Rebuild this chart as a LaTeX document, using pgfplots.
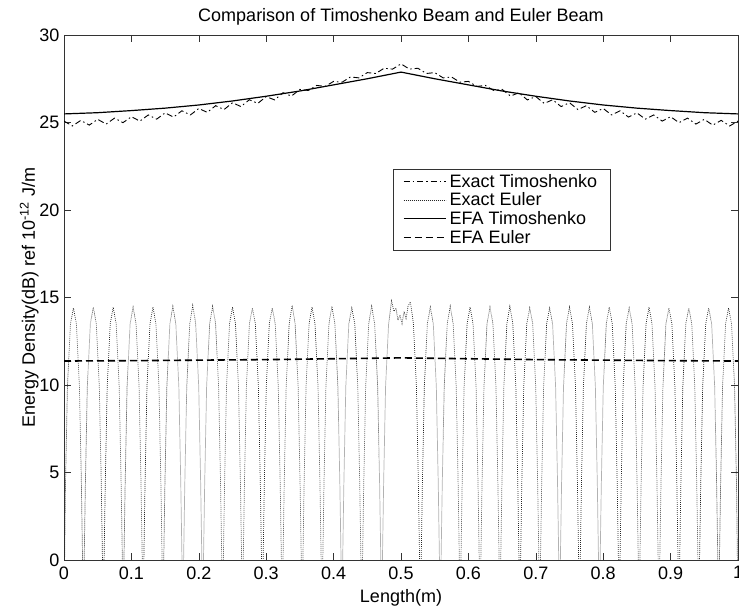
\documentclass[border=0pt]{standalone}
\usepackage{fontspec}
\setmainfont{Liberation Sans}
\usepackage{pgfplots}
\pgfplotsset{compat=1.18}
\begin{document}
\begin{tikzpicture}
\begin{axis}[
  name=ax,
  scale only axis,
  width=674pt, height=525pt,
  xmin=0, xmax=1, ymin=0, ymax=30,
  xtick={0,0.1,0.2,0.3,0.4,0.5,0.6,0.7,0.8,0.9,1},
  xticklabels={0,0.1,0.2,0.3,0.4,0.5,0.6,0.7,0.8,0.9,1},
  ytick={0,5,10,15,20,25,30},
  tick align=inside,
  major tick length=7pt,
  tick style={black!80, line width=0.6pt},
  axis line style={black!80, line width=0.7pt},
  clip=true,
  /pgf/number format/assume math mode=true,
  tick label style={font=\fontsize{18}{21}\selectfont},
  xticklabel style={yshift=-3pt},
  yticklabel style={xshift=-1pt},
  label style={font=\fontsize{18}{21}\selectfont},
  xlabel={Length(m)},
  ylabel={Energy Density(dB) ref 10\textsuperscript{-12} J/m},
  ylabel shift={-6pt},
  xlabel style={at={(rel axis cs:0.5,0)}, anchor=center, yshift=-38pt},
  title={Comparison of Timoshenko Beam and Euler Beam},
  title style={font=\fontsize{18}{21}\selectfont, at={(rel axis cs:0.5,1)}, anchor=center, yshift=12pt},
  legend style={at={(rel axis cs:0.488,0.745)}, anchor=north west, draw=black!80, fill=white,
    font=\fontsize{18}{19.5}\selectfont, row sep=2.2pt, inner xsep=10pt, inner ysep=4pt,
    nodes={inner ysep=1pt, inner xsep=3pt}},
  legend cell align=left,
  legend image code/.code={\path (0pt,0pt) -- (42pt,0pt); \draw[#1] (0pt,0pt) -- (35pt,0pt);},
]
% Exact Timoshenko (dash-dot)
\addplot[black, line width=0.9pt, dash pattern=on 6pt off 3pt on 1.5pt off 3pt] coordinates {
(0,25.08)(0.0125,24.80)(0.025,25.12)(0.0375,24.85)(0.05,25.18)(0.0625,24.91)(0.075,25.25)(0.0875,24.99)
(0.1,25.33)(0.1125,25.08)(0.125,25.43)(0.1375,25.19)(0.15,25.55)(0.1625,25.31)(0.175,25.67)(0.1875,25.43)
(0.2,25.80)(0.2125,25.58)(0.225,25.96)(0.2375,25.74)(0.25,26.13)(0.2625,25.91)(0.275,26.30)(0.2875,26.09)
(0.3,26.48)(0.3125,26.29)(0.325,26.70)(0.3375,26.51)(0.35,26.89)(0.3625,26.83)(0.375,27.12)(0.3875,27.06)
(0.4,27.35)(0.4125,27.30)(0.425,27.60)(0.4375,27.55)(0.45,27.85)(0.4625,27.80)(0.475,28.10)(0.4875,28.05)
(0.5,28.35)
(0.5125,28.05)(0.525,28.10)(0.5375,27.80)(0.55,27.85)(0.5625,27.55)(0.575,27.60)(0.5875,27.30)(0.6,27.35)
(0.6125,27.06)(0.625,27.12)(0.6375,26.83)(0.65,26.89)(0.6625,26.51)(0.675,26.70)(0.6875,26.29)(0.7,26.48)
(0.7125,26.09)(0.725,26.30)(0.7375,25.91)(0.75,26.13)(0.7625,25.74)(0.775,25.96)(0.7875,25.58)(0.8,25.80)
(0.8125,25.43)(0.825,25.67)(0.8375,25.31)(0.85,25.55)(0.8625,25.19)(0.875,25.43)(0.8875,25.08)(0.9,25.33)
(0.9125,24.99)(0.925,25.25)(0.9375,24.91)(0.95,25.18)(0.9625,24.85)(0.975,25.12)(0.9875,24.80)(1,25.08)
};
\addlegendentry{Exact Timoshenko}
% Exact Euler (dotted)
\addplot[black!85, line width=0.7pt, dash pattern=on 0.8pt off 1.2pt] coordinates {
(0,-3)(0.0022,4.3)(0.0051,9.9)(0.0096,13.5)(0.0140,14.4)(0.0184,13.5)(0.0229,9.9)(0.0258,4.3)(0.02875,-3)
(0.0317,4.3)(0.0346,9.9)(0.0391,13.5)(0.0435,14.45)(0.0479,13.5)(0.0524,9.9)(0.0553,4.3)(0.05825,-3)
(0.0612,4.3)(0.0641,9.9)(0.0686,13.5)(0.0730,14.45)(0.0774,13.5)(0.0819,9.9)(0.0848,4.3)(0.08775,-3)
(0.0907,4.3)(0.0936,9.9)(0.0981,13.5)(0.1025,14.45)(0.1069,13.5)(0.1114,9.9)(0.1143,4.3)(0.11725,-3)
(0.1202,4.3)(0.1231,9.9)(0.1276,13.5)(0.1320,14.45)(0.1364,13.5)(0.1409,9.9)(0.1438,4.3)(0.14675,-3)
(0.1497,4.3)(0.1526,9.9)(0.1571,13.5)(0.1615,14.5)(0.1659,13.5)(0.1704,9.9)(0.1733,4.3)(0.17625,-3)
(0.1792,4.3)(0.1821,9.9)(0.1866,13.5)(0.1910,14.55)(0.1954,13.5)(0.1999,9.9)(0.2028,4.3)(0.20575,-3)
(0.2087,4.3)(0.2116,9.9)(0.2161,13.5)(0.2205,14.5)(0.2249,13.5)(0.2294,9.9)(0.2323,4.3)(0.23525,-3)
(0.2382,4.3)(0.2411,9.9)(0.2456,13.5)(0.2500,14.45)(0.2544,13.5)(0.2589,9.9)(0.2618,4.3)(0.26475,-3)
(0.2677,4.3)(0.2706,9.9)(0.2751,13.5)(0.2795,14.4)(0.2839,13.5)(0.2884,9.9)(0.2913,4.3)(0.29425,-3)
(0.2972,4.3)(0.3001,9.9)(0.3046,13.5)(0.3090,14.4)(0.3134,13.5)(0.3179,9.9)(0.3208,4.3)(0.32375,-3)
(0.3267,4.3)(0.3296,9.9)(0.3341,13.5)(0.3385,14.55)(0.3429,13.5)(0.3474,9.9)(0.3503,4.3)(0.35325,-3)
(0.3562,4.3)(0.3591,9.9)(0.3636,13.5)(0.3680,14.45)(0.3724,13.5)(0.3769,9.9)(0.3798,4.3)(0.38275,-3)
(0.3857,4.3)(0.3886,9.9)(0.3931,13.5)(0.3975,14.5)(0.4019,13.5)(0.4064,9.9)(0.4093,4.3)(0.41225,-3)
(0.4152,4.3)(0.4181,9.9)(0.4226,13.5)(0.4270,14.4)(0.4314,13.5)(0.4359,9.9)(0.4388,4.3)(0.44175,-3)
(0.4447,4.3)(0.4476,9.9)(0.4521,13.5)(0.4565,14.5)(0.4609,13.5)(0.4654,9.9)(0.4683,4.3)(0.47125,-3)
(0.4742,4.3)(0.4771,9.9)(0.4816,13.5)(0.4860,14.8)(0.4895,14.2)(0.4925,14.4)(0.4955,13.7)(0.4985,14.0)
(0.5015,13.5)(0.5045,14.2)(0.5075,13.8)(0.5105,14.5)(0.5140,14.75)(0.5184,13.5)(0.5229,9.9)(0.5258,4.3)(0.52875,-3)
(0.5317,4.3)(0.5346,9.9)(0.5391,13.5)(0.5435,14.45)(0.5479,13.5)(0.5524,9.9)(0.5553,4.3)(0.55825,-3)
(0.5612,4.3)(0.5641,9.9)(0.5686,13.5)(0.5730,14.5)(0.5774,13.5)(0.5819,9.9)(0.5848,4.3)(0.58775,-3)
(0.5907,4.3)(0.5936,9.9)(0.5981,13.5)(0.6025,14.45)(0.6069,13.5)(0.6114,9.9)(0.6143,4.3)(0.61725,-3)
(0.6202,4.3)(0.6231,9.9)(0.6276,13.5)(0.6320,14.45)(0.6364,13.5)(0.6409,9.9)(0.6438,4.3)(0.64675,-3)
(0.6497,4.3)(0.6526,9.9)(0.6571,13.5)(0.6615,14.5)(0.6659,13.5)(0.6704,9.9)(0.6733,4.3)(0.67625,-3)
(0.6792,4.3)(0.6821,9.9)(0.6866,13.5)(0.6910,14.4)(0.6954,13.5)(0.6999,9.9)(0.7028,4.3)(0.70575,-3)
(0.7087,4.3)(0.7116,9.9)(0.7161,13.5)(0.7205,14.4)(0.7249,13.5)(0.7294,9.9)(0.7323,4.3)(0.73525,-3)
(0.7382,4.3)(0.7411,9.9)(0.7456,13.5)(0.7500,14.45)(0.7544,13.5)(0.7589,9.9)(0.7618,4.3)(0.76475,-3)
(0.7677,4.3)(0.7706,9.9)(0.7751,13.5)(0.7795,14.45)(0.7839,13.5)(0.7884,9.9)(0.7913,4.3)(0.79425,-3)
(0.7972,4.3)(0.8001,9.9)(0.8046,13.5)(0.8090,14.45)(0.8134,13.5)(0.8179,9.9)(0.8208,4.3)(0.82375,-3)
(0.8267,4.3)(0.8296,9.9)(0.8341,13.5)(0.8385,14.4)(0.8429,13.5)(0.8474,9.9)(0.8503,4.3)(0.85325,-3)
(0.8562,4.3)(0.8591,9.9)(0.8636,13.5)(0.8680,14.45)(0.8724,13.5)(0.8769,9.9)(0.8798,4.3)(0.88275,-3)
(0.8857,4.3)(0.8886,9.9)(0.8931,13.5)(0.8975,14.4)(0.9019,13.5)(0.9064,9.9)(0.9093,4.3)(0.91225,-3)
(0.9152,4.3)(0.9181,9.9)(0.9226,13.5)(0.9270,14.4)(0.9314,13.5)(0.9359,9.9)(0.9388,4.3)(0.94175,-3)
(0.9447,4.3)(0.9476,9.9)(0.9521,13.5)(0.9565,14.4)(0.9609,13.5)(0.9654,9.9)(0.9683,4.3)(0.97125,-3)
(0.9742,4.3)(0.9771,9.9)(0.9816,13.5)(0.9860,14.4)(0.9904,13.5)(0.9949,9.9)(0.9978,4.3)(1.0,-3)
};
\addlegendentry{Exact Euler}
% EFA Timoshenko (solid)
\addplot[black, line width=1.2pt] coordinates {
(0,25.49)(0.05,25.56)(0.1,25.68)(0.15,25.82)(0.2,26.0)(0.25,26.23)(0.3,26.5)(0.35,26.8)(0.4,27.15)(0.45,27.5)(0.5,27.88)
(0.55,27.5)(0.6,27.15)(0.65,26.8)(0.7,26.5)(0.75,26.23)(0.8,26.0)(0.85,25.82)(0.9,25.68)(0.95,25.56)(1,25.49)
};
\addlegendentry{EFA Timoshenko}
% EFA Euler (dashed)
\addplot[black, line width=1.6pt, dash pattern=on 7pt off 4pt] coordinates {
(0,11.37)(0.1,11.39)(0.2,11.42)(0.3,11.45)(0.4,11.5)(0.5,11.55)(0.6,11.5)(0.7,11.45)(0.8,11.42)(0.9,11.39)(1,11.37)
};
\addlegendentry{EFA Euler}
\end{axis}
\pgfresetboundingbox
\path[use as bounding box] ([shift={(-64pt,-50pt)}]ax.south west) rectangle ([shift={(1pt,35pt)}]ax.north east);
\end{tikzpicture}
\end{document}
